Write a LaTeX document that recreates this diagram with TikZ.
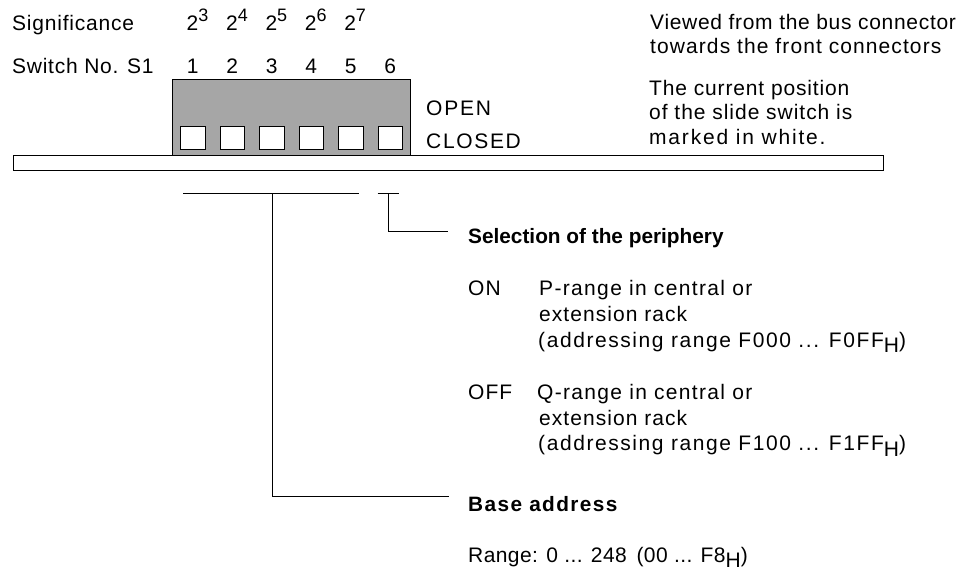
\documentclass[tikz,border=0pt]{standalone}
\usepackage{fontspec}
\setmainfont{Liberation Sans}
\begin{document}
\begin{tikzpicture}[x=1pt,y=-1pt,
  txt/.style={anchor=base west,inner sep=0pt,font=\fontsize{21}{25}\selectfont\addfontfeature{LetterSpace=#1}},
  txt/.default=0,
  btxt/.style={anchor=base west,inner sep=0pt,font=\fontsize{20.8}{25}\selectfont\bfseries\addfontfeature{LetterSpace=#1}},
  btxt/.default=0,
  num/.style={anchor=base,inner sep=0pt,font=\fontsize{21}{25}\selectfont},
  ln/.style={line width=1pt,black},
  slot/.style={draw=black,line width=0.9pt,fill=white}]
\useasboundingbox (0,0) rectangle (975,571);
% switch body and bar
\draw[line width=1pt,fill={rgb,255:red,166;green,166;blue,166}] (172,79) rectangle (410.5,155.7);
\draw[line width=1pt,fill=white] (13.3,155.7) rectangle (883.3,170.7);
\foreach \i in {0,...,5}{
  \draw[slot] ({180.5+39.5*\i},126) rectangle ({205+39.5*\i},149);
  \node[num] (n\i) at ({192.7+39.5*\i},73) {\the\numexpr\i+1\relax};
}
\node[txt=3.8] (sig) at (12,30) {Significance};
\node[txt=3.5] (sw) at (12,73) {Switch No. S1};
\foreach \e [count=\k from 0] in {3,4,5,6,7}{
  \node[txt] (p\k) at ({186.5+39.4*\k},30) {2\raisebox{8.5pt}{\fontsize{18}{18}\selectfont\e}};
}
\node[txt=8.6] (open) at (426,115) {OPEN};
\node[txt=7.9] (closed) at (426,148) {CLOSED};
\node[txt=3.3] (v1) at (650,29) {Viewed from the bus connector};
\node[txt=5.2] (v2) at (650,53) {towards the front connectors};
\node[txt=4.1] (c1) at (649,95) {The current position};
\node[txt=4.6] (c2) at (649,119.5) {of the slide switch is};
\node[txt=8.6] (c3) at (649,144) {marked in white.};
% connectors
\coordinate (aL) at (183,193.3);
\coordinate (aR) at (359,193.3);
\coordinate (aT) at (272.5,193.3);
\coordinate (aB) at (272.5,496.7);
\coordinate (aE) at (448.5,496.7);
\coordinate (bL) at (377.7,193.3);
\coordinate (bR) at (399.3,193.3);
\coordinate (bT) at (388.7,193.3);
\coordinate (bB) at (388.7,231);
\coordinate (bE) at (448,231);
\draw[ln] (aL) -- (aR);
\draw[ln] (aT) -- (aB) -- (aE);
\draw[ln] (bL) -- (bR);
\draw[ln] (bT) -- (bB) -- (bE);
\node[btxt] (sel) at (468,243) {Selection of the periphery};
\node[txt=5] (on) at (468,295) {ON};
\node[txt=6.4] (on1) at (539,295) {P-range in central or};
\node[txt=5] (on2) at (539,321.5) {extension rack};
\node[txt=7.5] (on3) at (538,347) {(addressing range F000 ... F0FF\raisebox{-5.5pt}{H})};
\node[txt=5] (off) at (468,399.3) {OFF};
\node[txt=6.3] (off1) at (537,399.3) {Q-range in central or};
\node[txt=5] (off2) at (539,425.5) {extension rack};
\node[txt=7.5] (off3) at (538,450.5) {(addressing range F100 ... F1FF\raisebox{-5.5pt}{H})};
\node[btxt=6.7] (base) at (468,511) {Base address};
\node[txt=2] (rng) at (468,562) {Range: 0 ... 248 \,(00 ... F8\raisebox{-5pt}{H})};
\end{tikzpicture}
\end{document}
